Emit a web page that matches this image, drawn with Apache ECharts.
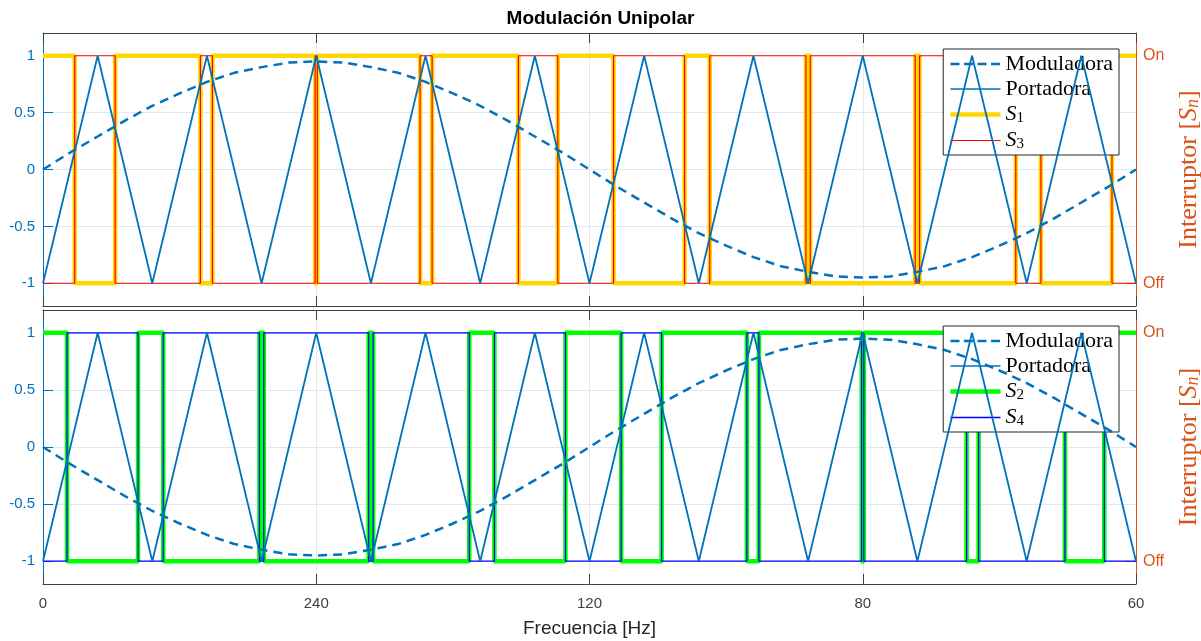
<!DOCTYPE html>
<html>
<head>
<meta charset="utf-8">
<title>Modulación Unipolar</title>
<script src="https://cdn.jsdelivr.net/npm/echarts@6/dist/echarts.min.js"></script>
<style>
  html, body { margin: 0; padding: 0; background: #fff; }
  #chart { width: 1201px; height: 641px; }
</style>
</head>
<body>
<div id="chart"></div>
<script>
// eje x: fraccion del periodo (0..1), etiquetas en Hz
const xTickValues = [0, 0.25, 0.5, 0.75, 1]
const xTickLabels = ['0', '240', '120', '80', '60']
const yTickValues = [-1, -0.5, 0, 0.5, 1]

// moduladora
const tMod = [0, 0.025, 0.05, 0.075, 0.1, 0.125, 0.15, 0.175, 0.2, 0.225, 0.25, 0.275, 0.3, 0.325,
  0.35, 0.375, 0.4, 0.425, 0.45, 0.475, 0.5, 0.525, 0.55, 0.575, 0.6, 0.625, 0.65, 0.675, 0.7,
  0.725, 0.75, 0.775, 0.8, 0.825, 0.85, 0.875, 0.9, 0.925, 0.95, 0.975, 1]
const modTop = [0, 0.15, 0.29, 0.43, 0.56, 0.67, 0.77, 0.85, 0.9, 0.94, 0.95, 0.94, 0.9, 0.85,
  0.77, 0.67, 0.56, 0.43, 0.29, 0.15, 0, -0.15, -0.29, -0.43, -0.56, -0.67, -0.77, -0.85, -0.9,
  -0.94, -0.95, -0.94, -0.9, -0.85, -0.77, -0.67, -0.56, -0.43, -0.29, -0.15, 0]
const modBottom = [0, -0.15, -0.29, -0.43, -0.56, -0.67, -0.77, -0.85, -0.9, -0.94, -0.95, -0.94,
  -0.9, -0.85, -0.77, -0.67, -0.56, -0.43, -0.29, -0.15, 0, 0.15, 0.29, 0.43, 0.56, 0.67, 0.77,
  0.85, 0.9, 0.94, 0.95, 0.94, 0.9, 0.85, 0.77, 0.67, 0.56, 0.43, 0.29, 0.15, 0]

// portadora triangular (vertices)
const tCarrier = [0, 0.05, 0.1, 0.15, 0.2, 0.25, 0.3, 0.35, 0.4, 0.45, 0.5, 0.55, 0.6, 0.65, 0.7,
  0.75, 0.8, 0.85, 0.9, 0.95, 1]
const carrier = [-1, 1, -1, 1, -1, 1, -1, 1, -1, 1, -1, 1, -1, 1, -1, 1, -1, 1, -1, 1, -1]

// instantes de conmutacion
const s1Start = 1
const s1Edges = [0.029, 0.066, 0.144, 0.155, 0.249, 0.251, 0.345, 0.356, 0.435, 0.471,
  0.522, 0.587, 0.61, 0.698, 0.702, 0.798, 0.802, 0.89, 0.913, 0.978]
const s2Start = 1
const s2Edges = [0.022, 0.087, 0.11, 0.198, 0.202, 0.298, 0.302, 0.39, 0.413, 0.478,
  0.529, 0.566, 0.644, 0.655, 0.749, 0.751, 0.845, 0.856, 0.935, 0.971]

const BLUE = '#0072BD'
const ORANGE = '#D95319'
const SANS = 'Liberation Sans, Arial, sans-serif'
const SERIF = 'Liberation Serif, Times New Roman, serif'

const pairs = (xs, ys) => xs.map((x, i) => [x, ys[i]])

const switchData = (edges, start) => {
  const pts = [[0, start]]
  let lv = start
  edges.forEach((t) => {
    pts.push([t, lv])
    lv = -lv
    pts.push([t, lv])
  })
  pts.push([1, lv])
  return pts
}

const legendFor = (top, names, colors, widths) => ({
  orient: 'vertical',
  right: 82,
  top,
  data: names.map((name, i) => ({
    name,
    lineStyle: { color: colors[i], width: widths[i], type: i === 0 ? [9, 4.5] : 'solid' },
  })),
  itemWidth: 50,
  itemHeight: 14,
  itemGap: 3,
  padding: [4, 6, 3, 5],
  backgroundColor: '#fff',
  borderColor: '#262626',
  borderWidth: 1,
  borderRadius: 0,
  selectedMode: false,
  itemStyle: { opacity: 0 },
  textStyle: {
    fontFamily: SERIF,
    fontSize: 22,
    lineHeight: 22,
    color: '#000',
    rich: {
      i: { fontFamily: SERIF, fontStyle: 'italic', fontSize: 22, lineHeight: 22, color: '#000' },
      sub: { fontFamily: SERIF, fontSize: 15, lineHeight: 15, padding: [8, 0, 0, 0], color: '#000' },
    },
  },
  formatter: (name) => (name[0] === 'S' ? `{i|S}{sub|${name.slice(1)}}` : name),
})

const xAxisFor = (gridIndex, position, withLabels) => ({
  type: 'value',
  gridIndex,
  position,
  min: 0,
  max: 1,
  interval: 0.25,
  axisLine: { show: true, onZero: false, lineStyle: { color: '#404040', width: 1 } },
  axisTick: { show: true, inside: true, length: 10, lineStyle: { color: '#404040' } },
  axisLabel: {
    show: withLabels,
    margin: 12,
    fontFamily: SANS,
    fontSize: 15,
    color: '#404040',
    formatter: (v) => xTickLabels[xTickValues.indexOf(v)],
  },
  splitLine: { show: position === 'bottom', lineStyle: { color: '#E6E6E6', width: 1 } },
  name: withLabels ? 'Frecuencia [Hz]' : '',
  nameLocation: 'middle',
  nameGap: 35,
  nameTextStyle: { fontFamily: SANS, fontSize: 19, color: '#262626' },
})

const yLeftFor = (gridIndex) => ({
  type: 'value',
  gridIndex,
  position: 'left',
  min: -1.2,
  max: 1.2,
  axisLine: { show: true, onZero: false, lineStyle: { color: BLUE, width: 1 } },
  axisTick: { show: true, inside: true, length: 10, customValues: yTickValues, lineStyle: { color: BLUE } },
  axisLabel: { customValues: yTickValues, margin: 8, fontFamily: SANS, fontSize: 15, color: BLUE },
  splitLine: { show: true, lineStyle: { color: '#DDE8F3', width: 1 } },
})

const yRightFor = (gridIndex) => ({
  type: 'value',
  gridIndex,
  position: 'right',
  min: -1.2,
  max: 1.2,
  axisLine: { show: true, onZero: false, lineStyle: { color: ORANGE, width: 1 } },
  axisTick: { show: true, inside: true, length: 10, customValues: [-1, 1], lineStyle: { color: ORANGE } },
  axisLabel: {
    customValues: [-1, 1],
    margin: 7,
    fontFamily: SANS,
    fontSize: 16,
    color: ORANGE,
    formatter: (v) => (v > 0 ? 'On' : 'Off'),
  },
  splitLine: { show: false },
  name: '{n|Interruptor [}{i|S}{sub|n}{n|]}',
  nameLocation: 'middle',
  nameRotate: 90,
  nameGap: 40,
  nameTextStyle: {
    rich: {
      n: { fontFamily: SERIF, fontSize: 26, lineHeight: 26, color: ORANGE },
      i: { fontFamily: SERIF, fontStyle: 'italic', fontSize: 26, lineHeight: 26, color: ORANGE },
      sub: { fontFamily: SERIF, fontStyle: 'italic', fontSize: 18, lineHeight: 18, padding: [9, 0, 0, 0], color: ORANGE },
    },
  },
})

const lineSeries = (name, data, xi, yi, color, width, z, type) => ({
  name,
  type: 'line',
  xAxisIndex: xi,
  yAxisIndex: yi,
  data,
  symbol: 'none',
  z,
  lineStyle: { color, width, type: type || 'solid' },
  itemStyle: { color },
  emphasis: { disabled: true },
})

const option = {
  animation: false,
  backgroundColor: '#fff',
  title: {
    text: 'Modulación Unipolar',
    left: 'center',
    top: 4,
    textStyle: { fontFamily: SANS, fontSize: 19, fontWeight: 'bold', color: '#000' },
  },
  legend: [
    legendFor(49, ['Moduladora', 'Portadora', 'S1', 'S3'], [BLUE, BLUE, '#FFD700', '#FF0000'], [2.5, 1.5, 4.5, 1.2]),
    legendFor(326, ['Moduladora', 'Portadora', 'S2', 'S4'], [BLUE, BLUE, '#00FF00', '#0000FF'], [2.5, 1.5, 4.5, 1.5]),
  ],
  grid: [
    { left: 43, right: 65, top: 33, height: 273, outerBoundsMode: 'none' },
    { left: 43, right: 65, top: 310, height: 274, outerBoundsMode: 'none' },
  ],
  xAxis: [
    xAxisFor(0, 'bottom', false),
    xAxisFor(0, 'top', false),
    xAxisFor(1, 'bottom', true),
    xAxisFor(1, 'top', false),
  ],
  yAxis: [yLeftFor(0), yRightFor(0), yLeftFor(1), yRightFor(1)],
  series: [
    lineSeries('S1', switchData(s1Edges, s1Start), 0, 0, '#FFD700', 4.5, 2),
    lineSeries('S3', switchData(s1Edges, -s1Start), 0, 0, '#FF0000', 1.2, 3),
    lineSeries('Portadora', pairs(tCarrier, carrier), 0, 0, BLUE, 1.8, 4),
    lineSeries('Moduladora', pairs(tMod, modTop), 0, 0, BLUE, 2.5, 5, [9, 6]),
    lineSeries('S2', switchData(s2Edges, s2Start), 2, 2, '#00FF00', 4.5, 2),
    lineSeries('S4', switchData(s2Edges, -s2Start), 2, 2, '#0000FF', 1.2, 3),
    lineSeries('Portadora', pairs(tCarrier, carrier), 2, 2, BLUE, 1.8, 4),
    lineSeries('Moduladora', pairs(tMod, modBottom), 2, 2, BLUE, 2.5, 5, [9, 6]),
  ],
}

const myChart = echarts.init(document.getElementById('chart'))
myChart.setOption(option)
</script>
</body>
</html>
